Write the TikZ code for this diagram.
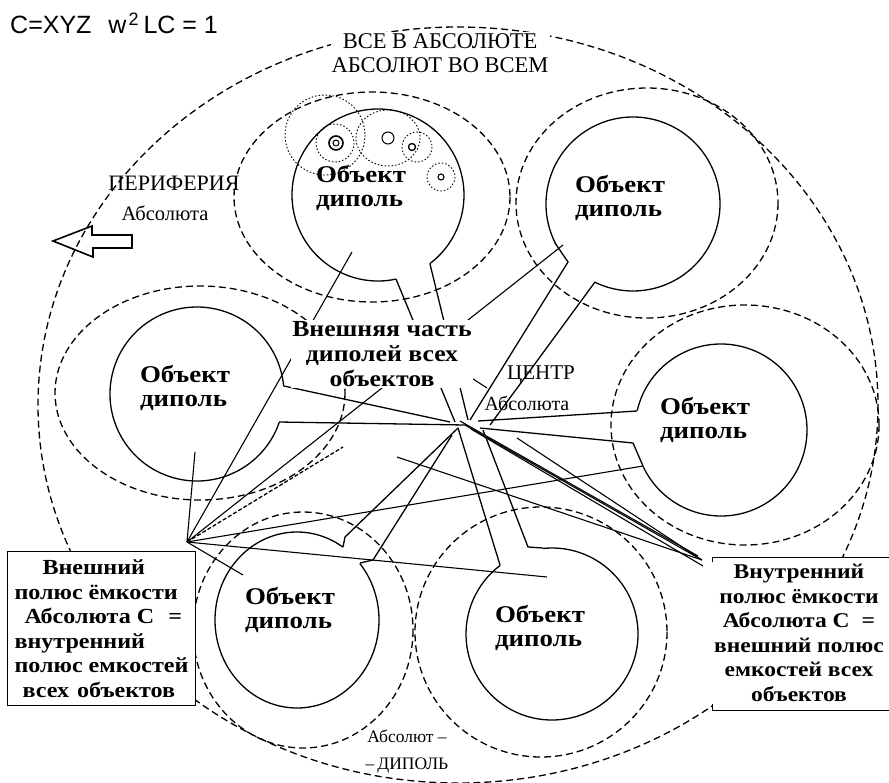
\documentclass[tikz,border=0pt]{standalone}
\usepackage{fontspec}
\setmainfont{Liberation Serif}
\newfontfamily\formfont{Liberation Sans}
\newfontfamily\widefont[FakeStretch=1.12]{Liberation Serif}
\usetikzlibrary{positioning}
\tikzset{ring/.style = {line width=1.3pt, dash pattern=on 7pt off 4pt},
         objline/.style = {line width=1.3pt},
         ray/.style = {line width=1.1pt},
         halo/.style = {line width=0.9pt, dash pattern=on 1.5pt off 2pt},
         objlabel/.style = {font=\widefont\fontsize{24}{24}\selectfont\bfseries, align=left, inner sep=0pt},
         polebox/.style = {draw, fill=white, line width=1pt, inner sep=2pt,
                           font=\widefont\fontsize{21.5}{24.5}\selectfont\bfseries},
         plainlabel/.style = {font=\fontsize{22}{24}\selectfont, align=center, inner sep=0pt}}
% circle of an object, left open where its neck leaves it
\newcommand{\objarc}[6]{\draw [objline] (#1,#2) ++(#5:#3 and #4)
  arc [start angle=#5, end angle=#6, x radius=#3, y radius=#4];}

\begin{document}
\begin{tikzpicture}[x=1pt, y=-1pt]
      \useasboundingbox (0,0) rectangle (889,782);
      \clip (0,0) rectangle (889,782);
      \coordinate (centre) at (465,425);
      \coordinate (outpole) at (187,542);
      \coordinate (inpole) at (702,560);
      % the Absolute and the fields round the objects
      \draw [ring] (458,405) ellipse [x radius=420, y radius=378];
      \draw [ring] (372,197) ellipse [x radius=138, y radius=105];
      \draw [ring] (647,203) ellipse [x radius=131, y radius=115];
      \draw [ring] (200,393) ellipse [x radius=145, y radius=107];
      \draw [ring] (745,425) ellipse [x radius=134, y radius=120];
      \draw [ring] (303,630) ellipse [x radius=110, y radius=118];
      \draw [ring] (541,632) ellipse [x radius=126, y radius=125];
      % small fields inside the upper object
      \draw [halo] (325,135) circle [radius=40];
      \draw [halo] (335,143) circle [radius=19];
      \draw [halo] (388,138) ellipse [x radius=32, y radius=28];
      \draw [halo] (417,147) circle [radius=15];
      \draw [halo] (441,177) circle [radius=14];
      \draw [line width=1.6pt] (336,143) circle [radius=7];
      \draw [line width=1pt] (336,143) circle [radius=3];
      \draw [line width=1pt] (388,138) circle [radius=6];
      \draw [line width=1.3pt] (412,147) circle [radius=3.5];
      \draw [line width=1.1pt] (441,177) circle [radius=3];
      % objects and their necks
      \objarc{378}{195}{86}{86}{78}{413}
      \draw [objline] (396,279) -- (455,422);
      \draw [objline] (430,264) -- (468,420);
      \objarc{633}{204}{87}{87}{153}{476}
      \draw [objline] (555,243) -- (568,262) -- (470,420);
      \draw [objline] (595,282) -- (490,425);
      \objarc{197}{394}{87}{87}{19}{355}
      \draw [objline] (284,386) -- (450,422);
      \draw [objline] (279,422) -- (centre);
      \objarc{721}{430}{86}{86}{193}{515}
      \draw [objline] (637,411) -- (478,421);
      \draw [objline] (643,466) -- (633,443) -- (480,428);
      \objarc{297}{620}{82}{88}{-40}{304}
      \draw [objline] (343,547) -- (345,537) -- (458,428);
      \draw [objline] (360,563) -- (373,560) -- (452,435);
      \objarc{552}{634}{86}{86}{264}{593}
      \draw [objline] (500,565) -- (458,428);
      \draw [objline] (543,548) -- (528,547) -- (483,430);
      % rays from the outer pole
      \draw [ray] (outpole) -- (195,452);
      \draw [ray] (outpole) -- (352,252);
      \draw [ray] (outpole) -- (563,245);
      \draw [ray] (outpole) -- (643,466);
      \draw [ray] (outpole) -- (547,577);
      \draw [ray] (outpole) -- (243,575);
      \draw [ray, line width=1.3pt, dash pattern=on 4pt off 2pt] (outpole) -- (343,447);
      % rays to the inner pole
      \draw [ray] (460,421) -- (698,556);
      \draw [ray] (centre) -- (inpole);
      \draw [ray] (471,429) -- (703,566);
      \draw [ray] (517,438) -- (inpole);
      \draw [ray] (397,457) -- (inpole);
      \draw [ray] (470,377) -- (487,388);
      % arrow to the periphery
      \draw [line width=1.6pt, line join=miter] (53,241) -- (92,226) -- (92,235) -- (132,235)
        -- (132,248) -- (93,248) -- (93,257) -- cycle;
      % labels
      \node [anchor=base west, inner sep=0pt, font=\formfont\fontsize{25}{25}\selectfont]
        (formula) at (10,33) {C=XYZ\hspace{17pt}w\hspace{2pt}\raisebox{8pt}{\fontsize{18}{18}\selectfont 2}\hspace{5pt}LC = 1};
      \node [plainlabel, font=\fontsize{22.5}{24}\selectfont, fill=white, inner sep=1pt] (motto) at (440,53)
        {ВСЕ В АБСОЛЮТЕ\\АБСОЛЮТ ВО ВСЕМ};
      \node [plainlabel] (periph) at (174,183) {ПЕРИФЕРИЯ};
      \node [plainlabel, font=\fontsize{20.5}{20}\selectfont] (periphsub) at (165,213) {Абсолюта};
      \node [plainlabel, font=\fontsize{21}{24}\selectfont] (centrename) at (541,375) {ЦЕНТР};
      \node [plainlabel, font=\fontsize{20}{20}\selectfont] (centresub) at (527,403) {Абсолюта};
      \node [plainlabel, font=\fontsize{17.5}{27}\selectfont] (absdipole) at (407,752)
        {Абсолют –\\–\,ДИПОЛЬ};
      \node [objlabel] (objtop) at (361,188) {Объект\\диполь};
      \node [objlabel] (objtopright) at (620,198) {Объект\\диполь};
      \node [objlabel] (objleft) at (185,388) {Объект\\диполь};
      \node [objlabel] (objright) at (705,420) {Объект\\диполь};
      \node [objlabel] (objlowleft) at (290,610) {Объект\\диполь};
      \node [objlabel] (objlowright) at (540,628) {Объект\\диполь};
      \node [objlabel, font=\widefont\fontsize{23}{25}\selectfont\bfseries, align=center,
        fill=white, inner sep=1pt] (outerpart) at (382,354)
        {Внешняя часть\\диполей всех\\объектов};
      \node [polebox, anchor=north west, minimum width=188pt, minimum height=154pt, align=left]
        (outerbox) at (7,551) {\hspace*{28pt}Внешний\\полюс ёмкости\\\hspace*{10pt}Абсолюта С\hspace{14pt}=\\
        внутренний\\полюс емкостей\\\hspace*{8pt}всех\hspace{8pt}объектов};
      \draw [line width=1pt, fill=white] (712,557) rectangle (895,710);
      \node [polebox, draw=none, font=\widefont\fontsize{21}{24.5}\selectfont\bfseries, align=center]
        (innerbox) at (799,633) {Внутренний\\полюс ёмкости\\Абсолюта С\hspace{12pt}=\\
        внешний полюс\\емкостей всех\\объектов};
    \end{tikzpicture}
\end{document}
